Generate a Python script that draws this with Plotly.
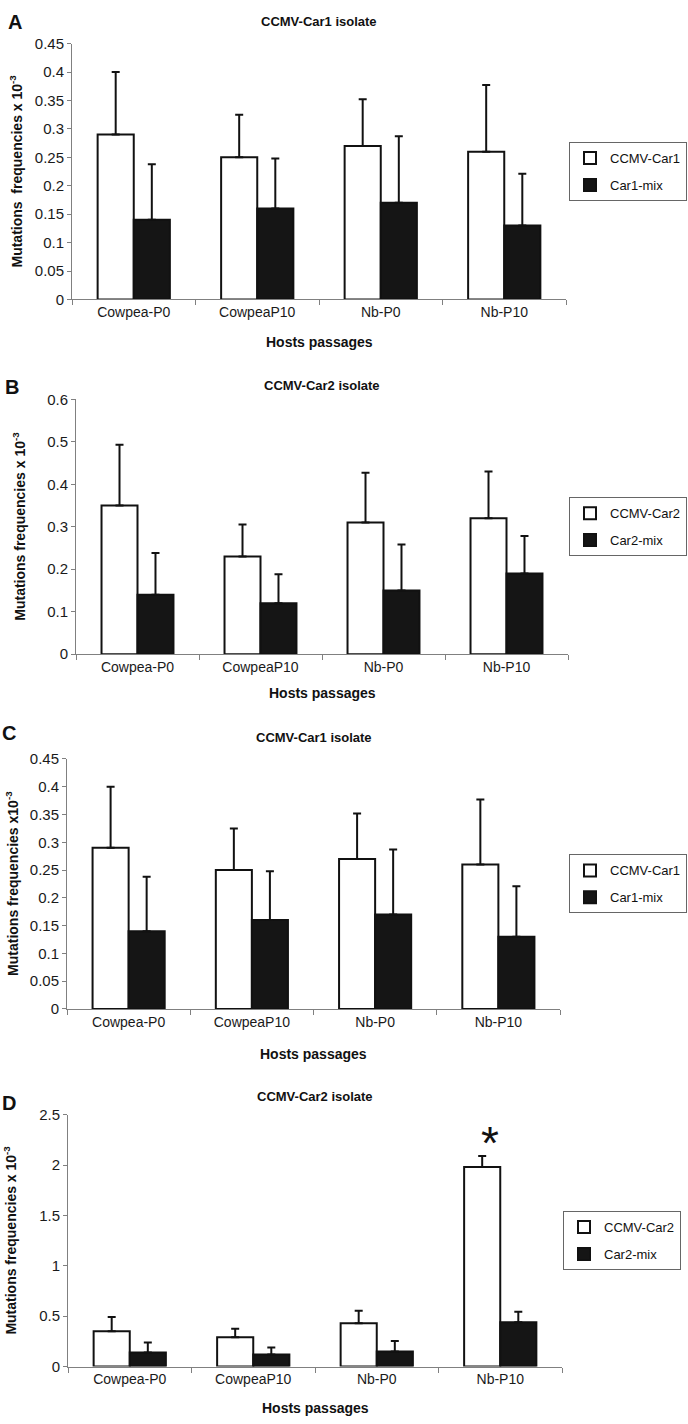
import plotly.graph_objects as go

# ---------------- data ----------------
categories = ["Cowpea-P0", "CowpeaP10", "Nb-P0", "Nb-P10"]

# Panel A / C : CCMV-Car1 isolate
car1_wt = [0.29, 0.25, 0.27, 0.26]
car1_wt_err = [0.11, 0.075, 0.082, 0.117]
car1_mix = [0.14, 0.16, 0.17, 0.13]
car1_mix_err = [0.098, 0.088, 0.117, 0.091]

# Panel B : CCMV-Car2 isolate
car2_wt = [0.35, 0.23, 0.31, 0.32]
car2_wt_err = [0.143, 0.075, 0.117, 0.11]
car2_mix = [0.14, 0.12, 0.15, 0.19]
car2_mix_err = [0.098, 0.068, 0.108, 0.088]

# Panel D : CCMV-Car2 isolate
car2d_wt = [0.35, 0.29, 0.43, 1.98]
car2d_wt_err = [0.143, 0.085, 0.125, 0.11]
car2d_mix = [0.14, 0.12, 0.15, 0.44]
car2d_mix_err = [0.098, 0.07, 0.105, 0.105]

W, H = 688, 1424
FONT = "Liberation Sans, Arial, sans-serif"


def px(x):
    return x / W


def py(y):
    return 1 - y / H


panels = [
    dict(letter="A", title="CCMV-Car1 isolate", names=("CCMV-Car1", "Car1-mix"),
         wt=car1_wt, wte=car1_wt_err, mix=car1_mix, mixe=car1_mix_err,
         ymax=0.45, dtick=0.05, xd=(72, 566), yd=(35, 294),
         ytitle="Mutations&nbsp; frequencies x 10<sup>-3</sup>", ytx=16,
         legr=687, letxy=(15, 13), tity=13, xty=337),
    dict(letter="B", title="CCMV-Car2 isolate", names=("CCMV-Car2", "Car2-mix"),
         wt=car2_wt, wte=car2_wt_err, mix=car2_mix, mixe=car2_mix_err,
         ymax=0.6, dtick=0.1, xd=(76, 568), yd=(395, 653),
         ytitle="Mutations frequencies x 10<sup>-3</sup>", ytx=19,
         legr=687, letxy=(12, 383), tity=381, xty=692),
    dict(letter="C", title="CCMV-Car1 isolate", names=("CCMV-Car1", "Car1-mix"),
         wt=car1_wt, wte=car1_wt_err, mix=car1_mix, mixe=car1_mix_err,
         ymax=0.45, dtick=0.05, xd=(67, 560), yd=(759, 1012),
         ytitle="Mutations frequencies x10<sup>-3</sup>", ytx=12,
         legr=687, letxy=(9, 733), tity=737, xty=1058),
    dict(letter="D", title="CCMV-Car2 isolate", names=("CCMV-Car2", "Car2-mix"),
         wt=car2d_wt, wte=car2d_wt_err, mix=car2d_mix, mixe=car2d_mix_err,
         ymax=2.5, dtick=0.5, xd=(68, 562), yd=(1119, 1374),
         ytitle="Mutations frequencies x 10<sup>-3</sup>", ytx=10,
         legr=681, letxy=(9, 1107), tity=1101, xty=1416),
]

fig = go.Figure()
annotations = []
layout = {}

for i, p in enumerate(panels, start=1):
    sfx = "" if i == 1 else str(i)
    xa, ya = "x" + sfx, "y" + sfx
    leg = "legend" + sfx
    fig.add_trace(go.Bar(
        x=categories, y=p["wt"], name=p["names"][0], xaxis=xa, yaxis=ya,
        legend=leg, legendgroup=f"{i}a",
        marker=dict(color="white", line=dict(color="#111", width=2)),
        error_y=dict(type="data", array=p["wte"], arrayminus=[0] * 4, symmetric=False,
                     color="#111", thickness=2, width=4),
    ))
    fig.add_trace(go.Bar(
        x=categories, y=p["mix"], name=p["names"][1], xaxis=xa, yaxis=ya,
        legend=leg, legendgroup=f"{i}b",
        marker=dict(color="#151515", line=dict(color="#111", width=2)),
        error_y=dict(type="data", array=p["mixe"], arrayminus=[0] * 4, symmetric=False,
                     color="#111", thickness=2, width=4),
    ))
    layout["xaxis" + sfx] = dict(
        domain=[px(p["xd"][0]), px(p["xd"][1])], anchor=ya,
        showline=True, linecolor="#808080", linewidth=1,
        ticks="outside", ticklen=5, tickcolor="#808080", tickson="boundaries",
        showgrid=False, tickfont=dict(family=FONT, size=14, color="#1a1a1a"),
    )
    layout["yaxis" + sfx] = dict(
        domain=[py(p["yd"][1]), py(p["yd"][0])], anchor=xa,
        range=[0, p["ymax"]], dtick=p["dtick"], tick0=0,
        showline=True, linecolor="#808080", linewidth=1,
        ticks="outside", ticklen=4, tickcolor="#808080",
        showgrid=False, zeroline=False,
        tickfont=dict(family=FONT, size=15, color="#1a1a1a"),
    )
    ymid = (p["yd"][0] + p["yd"][1]) / 2
    layout[leg] = dict(
        x=px(p["legr"]), y=py(ymid), xanchor="right", yanchor="middle",
        bgcolor="white", bordercolor="#666", borderwidth=1,
        font=dict(family=FONT, size=13, color="#111"),
        tracegroupgap=7, traceorder="grouped", itemwidth=30,
    )
    xmid = (p["xd"][0] + p["xd"][1]) / 2
    annotations += [
        dict(text=f"<b>{p['letter']}</b>", x=px(p["letxy"][0]), y=py(p["letxy"][1]),
             xref="paper", yref="paper", showarrow=False, xanchor="center", yanchor="middle",
             font=dict(family=FONT, size=20, color="#111")),
        dict(text=f"<b>{p['title']}</b>", x=px(xmid), y=py(p["tity"]),
             xref="paper", yref="paper", showarrow=False, xanchor="center", yanchor="middle",
             font=dict(family=FONT, size=13, color="#111")),
        dict(text="<b>Hosts passages</b>", x=px(xmid), y=py(p["xty"]),
             xref="paper", yref="paper", showarrow=False, xanchor="center", yanchor="middle",
             font=dict(family=FONT, size=14, color="#111")),
        dict(text=f"<b>{p['ytitle']}</b>", x=px(p["ytx"]), y=py(ymid), textangle=-90,
             xref="paper", yref="paper", showarrow=False, xanchor="center", yanchor="middle",
             font=dict(family=FONT, size=14, color="#111")),
    ]

# significance asterisk above Nb-P10 in panel D
annotations.append(dict(
    text="*", x=categories[3], y=car2d_wt[3] + car2d_wt_err[3], xref="x4", yref="y4",
    xshift=-10, yshift=-15, showarrow=False, xanchor="center", yanchor="bottom",
    font=dict(family=FONT, size=46, color="#111"),
))

fig.update_layout(
    width=W, height=H, margin=dict(l=0, r=0, t=0, b=0),
    paper_bgcolor="white", plot_bgcolor="white",
    barmode="group", bargap=0.415, bargroupgap=0,
    annotations=annotations, showlegend=True,
    **layout,
)

# remove the default page margin so the 688x1424 figure fills the window exactly
fig.write_html(
    "out.html",
    config={"displayModeBar": False},
    post_script="document.body.style.margin='0';document.body.style.overflow='hidden';"
                "document.documentElement.style.overflow='hidden';",
)
